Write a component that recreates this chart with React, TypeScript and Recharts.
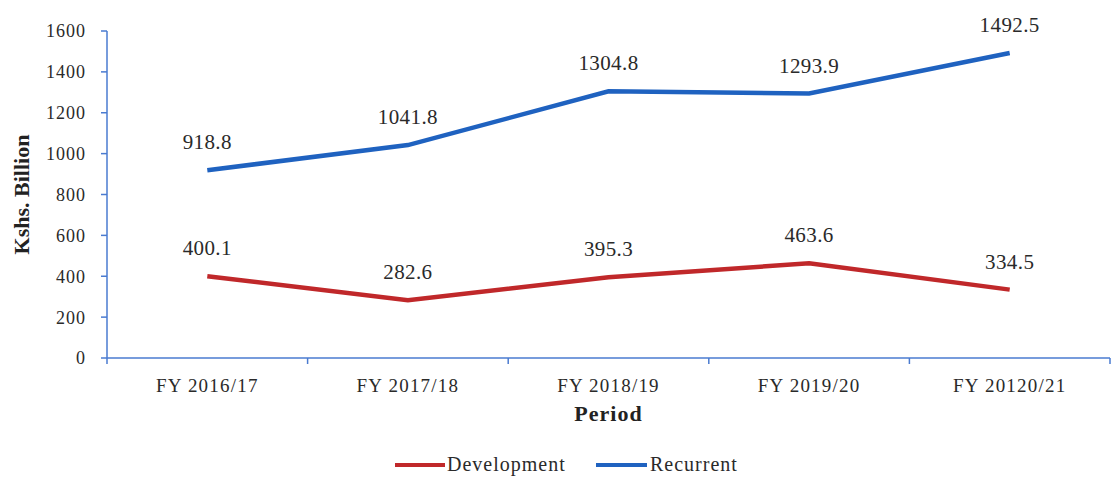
import React from "react";
import {
  LineChart,
  Line,
  XAxis,
  YAxis,
  Legend,
  LabelList,
} from "recharts";

const periods = ["FY 2016/17", "FY 2017/18", "FY 2018/19", "FY 2019/20", "FY 20120/21"];
const development = [400.1, 282.6, 395.3, 463.6, 334.5];
const recurrent = [918.8, 1041.8, 1304.8, 1293.9, 1492.5];
const yTicks = [0, 200, 400, 600, 800, 1000, 1200, 1400, 1600];

const data = periods.map((p, i) => ({
  period: p,
  development: development[i],
  recurrent: recurrent[i],
}));

const FONT = '"Liberation Serif", "Times New Roman", serif';
const RED = "#C0282A";
const BLUE = "#1F62C0";
const AXIS = "#4A7BD0";
const TEXT = "#2a2a2a";

// label in the middle of the band, tick mark on the band edges
const CategoryTick = (props: any) => {
  const { x, y, payload, width, visibleTicksCount, index } = props;
  const half = width / visibleTicksCount / 2;
  return (
    <g>
      <line x1={x - half} y1={y - 8} x2={x - half} y2={y - 2} stroke={AXIS} strokeWidth={1.5} />
      {index === visibleTicksCount - 1 && (
        <line x1={x + half} y1={y - 8} x2={x + half} y2={y - 2} stroke={AXIS} strokeWidth={1.5} />
      )}
      <text
        x={x}
        y={y + 26}
        textAnchor="middle"
        fontFamily={FONT}
        fontSize={19}
        letterSpacing={1.2}
        fill={TEXT}
      >
        {payload.value}
      </text>
    </g>
  );
};

const LegendContent = () => (
  <svg width={1114} height={30} style={{ display: "block" }}>
    <line x1={395} y1={15} x2={445} y2={15} stroke={RED} strokeWidth={4} />
    <text x={447} y={21} fontFamily={FONT} fontSize={20} letterSpacing={1} fill={TEXT}>Development</text>
    <line x1={596} y1={15} x2={647} y2={15} stroke={BLUE} strokeWidth={4} />
    <text x={650} y={21} fontFamily={FONT} fontSize={20} letterSpacing={1} fill={TEXT}>Recurrent</text>
  </svg>
);

const yTickStyle = { fontFamily: FONT, fontSize: 18, letterSpacing: 1, fill: TEXT };
const valueStyle = { fontFamily: FONT, fontSize: 21, letterSpacing: 0.4, fill: TEXT };

export default function App() {
  return (
    <div style={{ width: 1114, height: 480, background: "#fff", fontFamily: FONT }}>
      <style>{"body{margin:0}"}</style>
      <LineChart
        width={1114}
        height={480}
        data={data}
        margin={{ top: 31, right: 4, left: 47, bottom: 32 }}
        style={{ fontFamily: FONT }}
      >
        <XAxis
          dataKey="period"
          scale="band"
          interval={0}
          axisLine={{ stroke: AXIS, strokeWidth: 1.5 }}
          tickLine={false}
          tick={<CategoryTick />}
          height={60}
          label={{
            value: "Period",
            position: "insideBottom",
            offset: -3,
            fontFamily: FONT,
            fontSize: 22,
            letterSpacing: 1,
            fontWeight: "bold",
            fill: "#222",
          }}
        />
        <YAxis
          domain={[0, 1600]}
          ticks={yTicks}
          interval={0}
          width={60}
          axisLine={{ stroke: AXIS, strokeWidth: 1.5 }}
          tickLine={{ stroke: AXIS, strokeWidth: 1.5 }}
          tickSize={6}
          tickMargin={15}
          tick={yTickStyle}
          label={{
            value: "Kshs. Billion",
            angle: -90,
            position: "insideLeft",
            offset: -26,
            style: { textAnchor: "middle" },
            fontFamily: FONT,
            fontSize: 22,
            fontWeight: "bold",
            fill: "#222",
          }}
        />
        <Legend verticalAlign="bottom" content={<LegendContent />} wrapperStyle={{ left: 0, bottom: 0 }} />
        <Line
          dataKey="development"
          name="Development"
          stroke={RED}
          strokeWidth={4.5}
          dot={false}
          isAnimationActive={false}
        >
          <LabelList dataKey="development" position="top" offset={21} style={valueStyle} />
        </Line>
        <Line
          dataKey="recurrent"
          name="Recurrent"
          stroke={BLUE}
          strokeWidth={4.5}
          dot={false}
          isAnimationActive={false}
        >
          <LabelList dataKey="recurrent" position="top" offset={21} style={valueStyle} />
        </Line>
      </LineChart>
    </div>
  );
}
